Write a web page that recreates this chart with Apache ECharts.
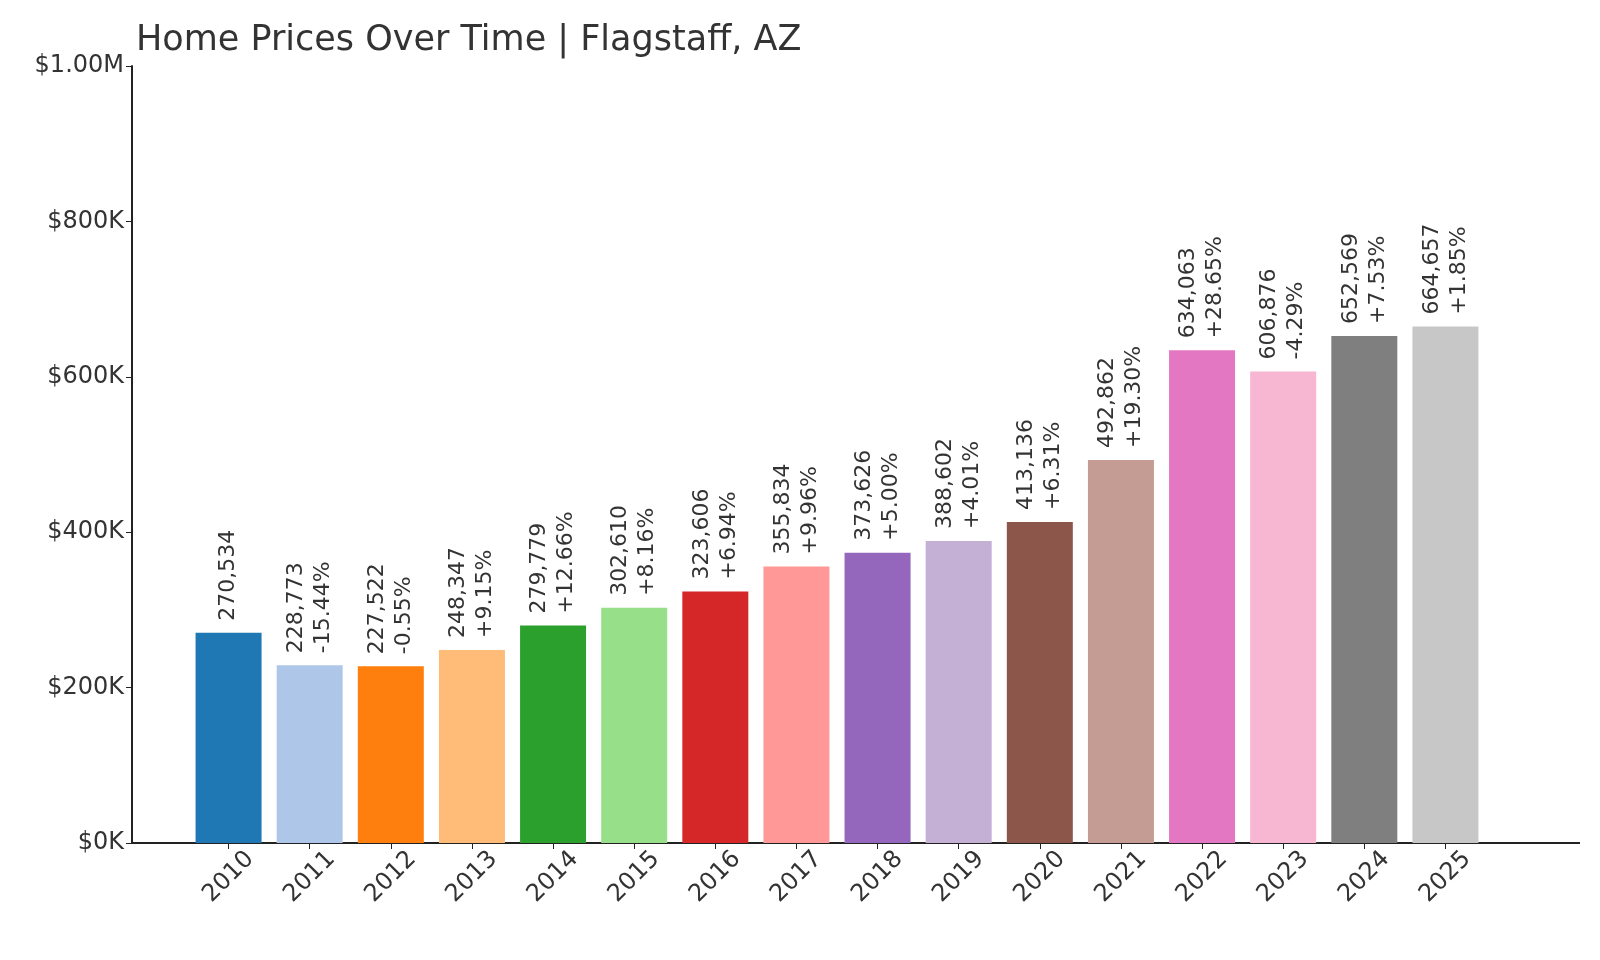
<!DOCTYPE html>
<html><head><meta charset="utf-8">
<script src="https://cdn.jsdelivr.net/npm/echarts@6/dist/echarts.min.js"></script>
<style>html,body{margin:0;background:#fff}#c{width:1600px;height:960px}</style>
</head><body><div id="c"></div>
<script>
const years=['2010','2011','2012','2013','2014','2015','2016','2017','2018','2019','2020','2021','2022','2023','2024','2025'];
const values=[270534,228773,227522,248347,279779,302610,323606,355834,373626,388602,413136,492862,634063,606876,652569,664657];
const changes=['','-15.44%','-0.55%','+9.15%','+12.66%','+8.16%','+6.94%','+9.96%','+5.00%','+4.01%','+6.31%','+19.30%','+28.65%','-4.29%','+7.53%','+1.85%'];
const colors=['#1f77b4','#aec7e8','#ff7f0e','#ffbb78','#2ca02c','#98df8a','#d62728','#ff9896','#9467bd','#c5b0d5','#8c564b','#c49c94','#e377c2','#f7b6d2','#7f7f7f','#c7c7c7'];
const yTicks=['$0K','$200K','$400K','$600K','$800K','$1.00M'];
const ch=echarts.init(document.getElementById('c'));
const F='DejaVu Sans';
ch.setOption({
 animation:false,
 title:{text:'Home Prices Over Time | Flagstaff, AZ',left:131,top:18,textStyle:{fontFamily:F,fontSize:35,fontWeight:'normal',color:'#333'}},
 grid:{left:188,right:114,top:66,bottom:117},
 xAxis:{type:'category',data:years,axisLine:{show:false},axisTick:{show:true,alignWithLabel:true,length:6,lineStyle:{color:'#222'}},
  axisLabel:{rotate:45,align:'center',verticalAlign:'middle',fontFamily:F,fontSize:24,color:'#333',margin:34}},
 yAxis:{type:'value',min:0,max:1000000,interval:200000,offset:56,splitLine:{show:false},
  axisLine:{show:true,lineStyle:{color:'#222',width:2}},axisTick:{show:true,length:6,lineStyle:{color:'#222'}},
  axisLabel:{fontFamily:F,fontSize:24,color:'#333',formatter:(v)=>yTicks[Math.round(v/200000)]}},
 graphic:[{type:'line',shape:{x1:132,y1:843,x2:1580,y2:843},style:{stroke:'#222',lineWidth:2}}],
 series:[{type:'bar',barWidth:66,
  data:values.map((v,i)=>({value:v,itemStyle:{color:colors[i]}})),
  label:{show:true,position:'top',rotate:90,align:'left',verticalAlign:'middle',distance:12,
   fontFamily:F,fontSize:22,color:'#333',lineHeight:27,
   formatter:(p)=>{const s=p.value.toLocaleString('en-US');return changes[p.dataIndex]?s+'\n'+changes[p.dataIndex]:s;}}}]
});
</script></body></html>
